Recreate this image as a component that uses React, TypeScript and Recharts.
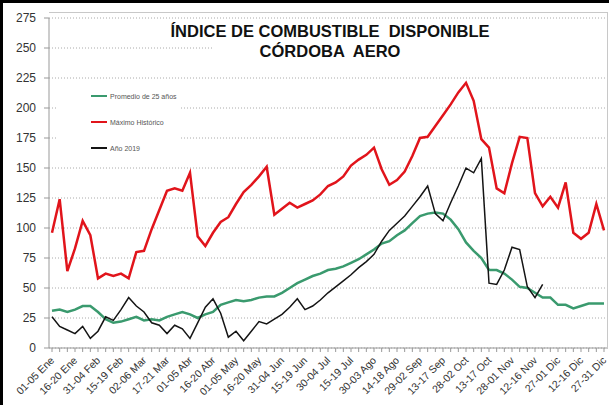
import { LineChart, Line, XAxis, YAxis, CartesianGrid, Legend } from "recharts";

// pentadas del año (73), se rotulan cada 3
const pentads = [
  "01-05 Ene", "06-10 Ene", "11-15 Ene", "16-20 Ene", "21-25 Ene", "26-30 Ene",
  "31-04 Feb", "05-09 Feb", "10-14 Feb", "15-19 Feb", "20-24 Feb", "25-01 Mar",
  "02-06 Mar", "07-11 Mar", "12-16 Mar", "17-21 Mar", "22-26 Mar", "27-31 Mar",
  "01-05 Abr", "06-10 Abr", "11-15 Abr", "16-20 Abr", "21-25 Abr", "26-30 Abr",
  "01-05 May", "06-10 May", "11-15 May", "16-20 May", "21-25 May", "26-30 May",
  "31-04 Jun", "05-09 Jun", "10-14 Jun", "15-19 Jun", "20-24 Jun", "25-29 Jun",
  "30-04 Jul", "05-09 Jul", "10-14 Jul", "15-19 Jul", "20-24 Jul", "25-29 Jul",
  "30-03 Ago", "04-08 Ago", "09-13 Ago", "14-18 Ago", "19-23 Ago", "24-28 Ago",
  "29-02 Sep", "03-07 Sep", "08-12 Sep", "13-17 Sep", "18-22 Sep", "23-27 Sep",
  "28-02 Oct", "03-07 Oct", "08-12 Oct", "13-17 Oct", "18-22 Oct", "23-27 Oct",
  "28-01 Nov", "02-06 Nov", "07-11 Nov", "12-16 Nov", "17-21 Nov", "22-26 Nov",
  "27-01 Dic", "02-06 Dic", "07-11 Dic", "12-16 Dic", "17-21 Dic", "22-26 Dic",
  "27-31 Dic",
];

const promedio = [
  31, 32, 30, 32, 35, 35, 30, 24, 21, 22, 24, 26, 23, 24, 23, 26, 28, 30, 28, 25,
  28, 30, 36, 38, 40, 39, 40, 42, 43, 43, 46, 50, 54, 57, 60, 62, 65, 66, 68, 71,
  74, 78, 82, 87, 89, 94, 98, 104, 110, 112, 113, 112, 107, 99, 88, 81, 75, 65, 65, 62,
  57, 51, 50, 46, 42, 42, 36, 36, 33, 35, 37, 37, 37,
];

const maximo = [
  96, 124, 64, 83, 106, 94, 58, 62, 60, 62, 58, 80, 81, 99, 115, 131, 133, 131, 146, 93,
  85, 96, 105, 109, 120, 130, 136, 143, 151, 111, 116, 121, 117, 120, 123, 128, 135, 138, 143, 152,
  157, 161, 167, 149, 136, 140, 147, 160, 175, 176, 185, 194, 203, 213, 221, 206, 174, 167, 133, 129,
  154, 176, 175, 129, 118, 126, 117, 138, 96, 91, 96, 120, 98,
];

const anio2019 = [
  26, 18, 15, 12, 18, 8, 14, 26, 23, 32, 42, 35, 30, 21, 19, 12, 19, 16, 8, 21,
  34, 41, 29, 9, 14, 6, 14, 22, 20, 24, 28, 34, 41, 32, 35, 40, 46, 51, 56, 61,
  67, 72, 78, 89, 98, 104, 110, 118, 126, 135, 112, 106, 121, 135, 150, 146, 158, 54, 53, 65,
  84, 82, 51, 42, 53,
];

const yTicks = [0, 25, 50, 75, 100, 125, 150, 175, 200, 225, 250, 275];
const legendOrder = ["promedio", "maximo", "anio2019"];

const data = pentads.map((p, i) => ({
  pentad: p,
  promedio: promedio[i],
  maximo: maximo[i],
  anio2019: i < anio2019.length ? anio2019[i] : null,
}));

const FONT = "'Liberation Sans', Arial, sans-serif";

function PentadTick(props: any) {
  const { x, y, payload, index } = props;
  const i = payload?.index ?? index;
  if (i % 3 !== 0) return null;
  return (
    <g transform={`translate(${x + 3},${y + 7})`}>
      <text
        x={0}
        y={0}
        textAnchor="end"
        transform="rotate(-45)"
        fontSize={10.5}
        fontFamily={FONT}
        fill="#333"
      >
        {payload.value}
      </text>
    </g>
  );
}

function LegendBox(props: any) {
  const items = [...(props.payload || [])].sort(
    (a: any, b: any) => legendOrder.indexOf(a.dataKey) - legendOrder.indexOf(b.dataKey)
  );
  return (
    <div style={{ background: "#fff", width: 122 }}>
      {items.map((it: any) => (
        <div
          key={it.value}
          style={{ display: "flex", alignItems: "center", height: 26 }}
        >
          <div
            style={{
              marginLeft: 33,
              width: 16,
              height: 2,
              background: it.color,
            }}
          />
          <span
            style={{
              marginLeft: 3,
              fontSize: 7,
              fontFamily: FONT,
              color: "#555",
              whiteSpace: "nowrap",
            }}
          >
            {it.value}
          </span>
        </div>
      ))}
    </div>
  );
}

export default function App() {
  return (
    <div style={{ position: "relative", width: 609, height: 405, background: "#fff" }}>
      <style>{`body{margin:0}`}</style>
      <LineChart
        width={609}
        height={405}
        data={data}
        margin={{ top: 18, right: 2, bottom: 0, left: 0 }}
      >
        <CartesianGrid
          vertical={false}
          stroke="#aaa"
          strokeDasharray="1 2"
        />
        <XAxis
          dataKey="pentad"
          interval={0}
          height={57}
          padding={{ left: 3, right: 3 }}
          tick={<PentadTick />}
          tickSize={4}
          stroke="#999"
        />
        <YAxis
          width={49}
          domain={[0, 275]}
          ticks={yTicks}
          tickSize={5}
          tickMargin={8}
          stroke="#999"
          tick={{ fill: "#333", fontSize: 12, fontFamily: FONT }}
        />
        <Legend
          layout="vertical"
          align="center"
          verticalAlign="middle"
          wrapperStyle={{ left: 58, top: 83, width: 122 }}
          content={<LegendBox />}
        />
        <Line
          dataKey="promedio"
          name="Promedio de 25 años"
          stroke="#3a9a6e"
          strokeWidth={2.5}
          dot={false}
          type="linear"
          isAnimationActive={false}
        />
        <Line
          dataKey="maximo"
          name="Máximo Histórico"
          stroke="#e1141b"
          strokeWidth={2.5}
          dot={false}
          type="linear"
          isAnimationActive={false}
        />
        <Line
          dataKey="anio2019"
          name="Año 2019"
          stroke="#141414"
          strokeWidth={1.5}
          dot={false}
          type="linear"
          connectNulls={false}
          isAnimationActive={false}
        />
      </LineChart>

      {/* marco del área de gráfico */}
      <div style={{ position: "absolute", left: 49, top: 12, width: 558, height: 336, borderTop: "1px solid #c8c8c8", borderRight: "1px solid #c8c8c8", pointerEvents: "none" }} />

      {/* título */}
      <div style={{ position: "absolute", left: 213, top: 40, width: 393, height: 18, background: "#fff" }} />
      <div
        style={{
          position: "absolute",
          left: 80,
          top: 21,
          width: 500,
          textAlign: "center",
          fontFamily: FONT,
          fontWeight: "bold",
          fontSize: 16.5,
          lineHeight: "20px",
          color: "#111",
          whiteSpace: "pre",
        }}
      >
        {"ÍNDICE DE COMBUSTIBLE  DISPONIBLE\nCÓRDOBA  AERO"}
      </div>

      {/* borde exterior */}
      <div style={{ position: "absolute", left: 0, top: 0, width: 3, height: 405, background: "#000" }} />
      <div style={{ position: "absolute", left: 0, top: 0, width: 609, height: 3, background: "#000" }} />
    </div>
  );
}
